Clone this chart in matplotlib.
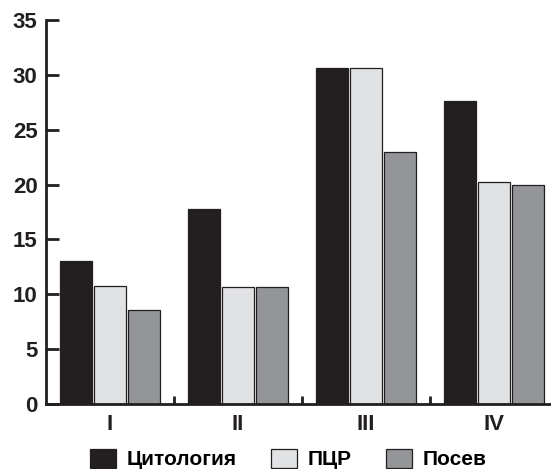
import numpy as np
import matplotlib.pyplot as plt

plt.rcParams['font.family'] = ['Liberation Sans', 'DejaVu Sans']

groups = ['I', 'II', 'III', 'IV']
cytology = [13.0, 17.8, 30.6, 27.6]
pcr = [10.8, 10.7, 30.6, 20.2]
culture = [8.6, 10.7, 23.0, 20.0]
series_names = ['Цитология', 'ПЦР', 'Посев']
colors = ['#231f20', '#e1e2e4', '#939598']

fig = plt.figure(figsize=(5.51, 4.69), dpi=100)
ax = fig.add_axes([46/551, 65/469, 1 - 46/551, 384/469])

x = np.arange(len(groups))
w = 0.245
off = 0.266
for i, (vals, name) in enumerate(zip([cytology, pcr, culture], series_names)):
    ax.bar(x + (i - 1) * off, vals, w, color=colors[i], edgecolor='#231f20',
           linewidth=0.9, label=name)

ax.set_xlim(-0.5, 3.5 - 7/128)
ax.set_ylim(0, 35)
ax.set_yticks(range(0, 36, 5))
ax.set_xticks(x)
ax.set_xticklabels(groups)
ax.set_xticks([0.5, 1.5, 2.5], minor=True)

for s in ['top', 'right']:
    ax.spines[s].set_visible(False)
for s in ['left', 'bottom']:
    ax.spines[s].set_linewidth(2)
    ax.spines[s].set_color('#231f20')

ax.tick_params(axis='y', direction='in', length=9, width=2, color='#231f20',
               labelsize=16, pad=6, labelcolor='#231f20')
ax.tick_params(axis='x', which='major', length=0, labelsize=16, pad=7,
               labelcolor='#231f20')
ax.tick_params(axis='x', which='minor', direction='in', length=6, width=2,
               color='#231f20')
for lab in ax.get_xticklabels() + ax.get_yticklabels():
    lab.set_fontweight('bold')

leg = ax.legend(loc='center', bbox_to_anchor=(0.480, -0.143), ncol=3,
                frameon=False, prop={'weight': 'bold', 'size': 15},
                handlelength=1.25, handleheight=1.05, columnspacing=1.63,
                handletextpad=0.53)

plt.savefig('out.png', dpi=100)
